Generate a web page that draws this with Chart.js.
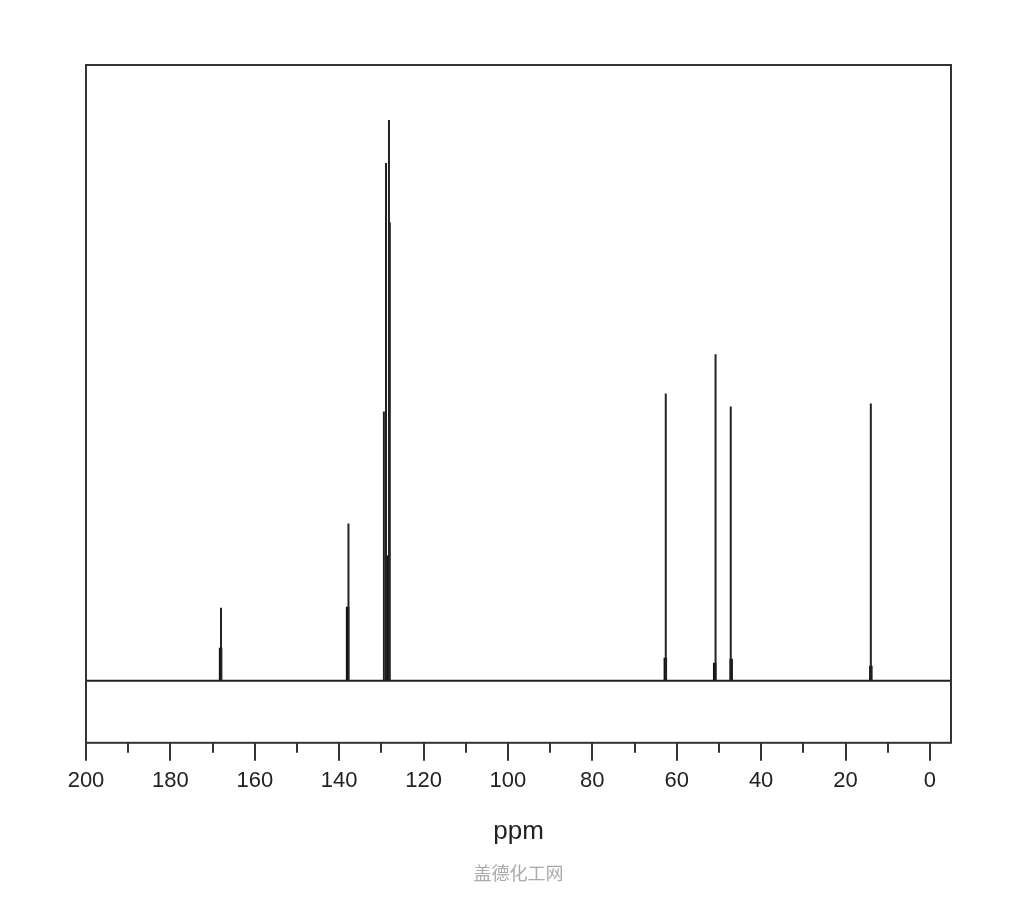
<!DOCTYPE html>
<html>
<head>
<meta charset="utf-8">
<script src="https://cdn.jsdelivr.net/npm/chart.js@4.4.1/dist/chart.umd.min.js"></script>
<style>
  body { margin: 0; background: #fff; }
  #wrap { width: 1024px; height: 900px; }
</style>
</head>
<body>
<div id="wrap"><canvas id="nmr" width="1024" height="900"></canvas></div>
<script>
'use strict';

// peak positions (ppm) and heights
const peakPpm = [168.0, 137.8, 129.4, 128.9, 128.2, 128.0, 62.6, 50.8, 47.2, 14.0];
const peakHeight = [73, 157, 269, 517, 560, 458, 287, 326, 274, 277];
// short thick bases under the main lines
const shoulderPpm = [168.1, 138.0, 128.5, 62.7, 51.0, 47.1, 14.0];
const shoulderHeight = [33, 74, 125, 23, 18, 22, 15];

const majorTicks = [200, 180, 160, 140, 120, 100, 80, 60, 40, 20, 0];
const minorTicks = [190, 170, 150, 130, 110, 90, 70, 50, 30, 10];
const ppmMin = -5;
const ppmMax = 200;

function spikes(ppm, height) {
  const order = ppm.map((p, i) => i).sort((a, b) => ppm[b] - ppm[a]);
  const pts = [{x: ppmMax, y: 0}];
  order.forEach(i => {
    pts.push({x: ppm[i], y: 0});
    pts.push({x: ppm[i], y: height[i]});
    pts.push({x: ppm[i], y: 0});
  });
  pts.push({x: ppmMin, y: 0});
  return pts;
}

// separate strokes, no baseline between them
function stubs(ppm, height) {
  const pts = [];
  ppm.forEach((p, i) => {
    pts.push({x: p, y: 0});
    pts.push({x: p, y: height[i]});
    pts.push({x: p, y: null});
  });
  return pts;
}

// frame around the plot and the short minor ticks
const framePlugin = {
  id: 'frame',
  afterDraw(chart) {
    const ctx = chart.ctx;
    const a = chart.chartArea;
    const xs = chart.scales.x;
    ctx.save();
    ctx.strokeStyle = '#333';
    ctx.lineWidth = 2;
    ctx.strokeRect(a.left, a.top, a.right - a.left, a.bottom - a.top);
    ctx.beginPath();
    minorTicks.forEach(v => {
      const px = Math.round(xs.getPixelForValue(v));
      ctx.moveTo(px, a.bottom);
      ctx.lineTo(px, a.bottom + 10);
    });
    ctx.stroke();
    ctx.restore();
  }
};

const ctx = document.getElementById('nmr').getContext('2d');
const chart = new Chart(ctx, {
  type: 'line',
  data: {
    datasets: [
      {
        label: 'spectrum',
        data: spikes(peakPpm, peakHeight),
        borderColor: '#222',
        borderWidth: 2,
        pointRadius: 0,
        tension: 0
      },
      {
        label: 'base',
        data: stubs(shoulderPpm, shoulderHeight),
        borderColor: '#111',
        borderWidth: 3.5,
        pointRadius: 0,
        tension: 0,
        spanGaps: false
      }
    ]
  },
  options: {
    responsive: false,
    animation: false,
    events: [],
    layout: { padding: { left: 86, right: 73, top: 65, bottom: 0 } },
    plugins: {
      legend: { display: false },
      tooltip: { enabled: false },
      title: {
        display: true,
        position: 'bottom',
        text: '盖德化工网',
        color: '#aaa',
        font: { family: '"Noto Sans CJK SC"', size: 18, weight: 'normal' },
        padding: { top: 15, bottom: 16 }
      }
    },
    scales: {
      x: {
        type: 'linear',
        reverse: true,
        min: ppmMin,
        max: ppmMax,
        afterBuildTicks(scale) {
          scale.ticks = majorTicks.map(v => ({ value: v }));
        },
        border: { display: false },
        grid: {
          drawOnChartArea: false,
          drawTicks: true,
          tickLength: 18,
          lineWidth: 2,
          color: '#333'
        },
        ticks: {
          padding: 7,
          maxRotation: 0,
          autoSkip: false,
          color: '#222',
          font: { family: '"Liberation Sans", Arial', size: 22 }
        },
        title: {
          display: true,
          text: 'ppm',
          color: '#222',
          font: { family: '"Liberation Sans", Arial', size: 26 },
          padding: { top: 15, bottom: 0 }
        }
      },
      y: {
        display: false,
        min: -62,
        max: 615
      }
    }
  },
  plugins: [framePlugin]
});
</script>
</body>
</html>
